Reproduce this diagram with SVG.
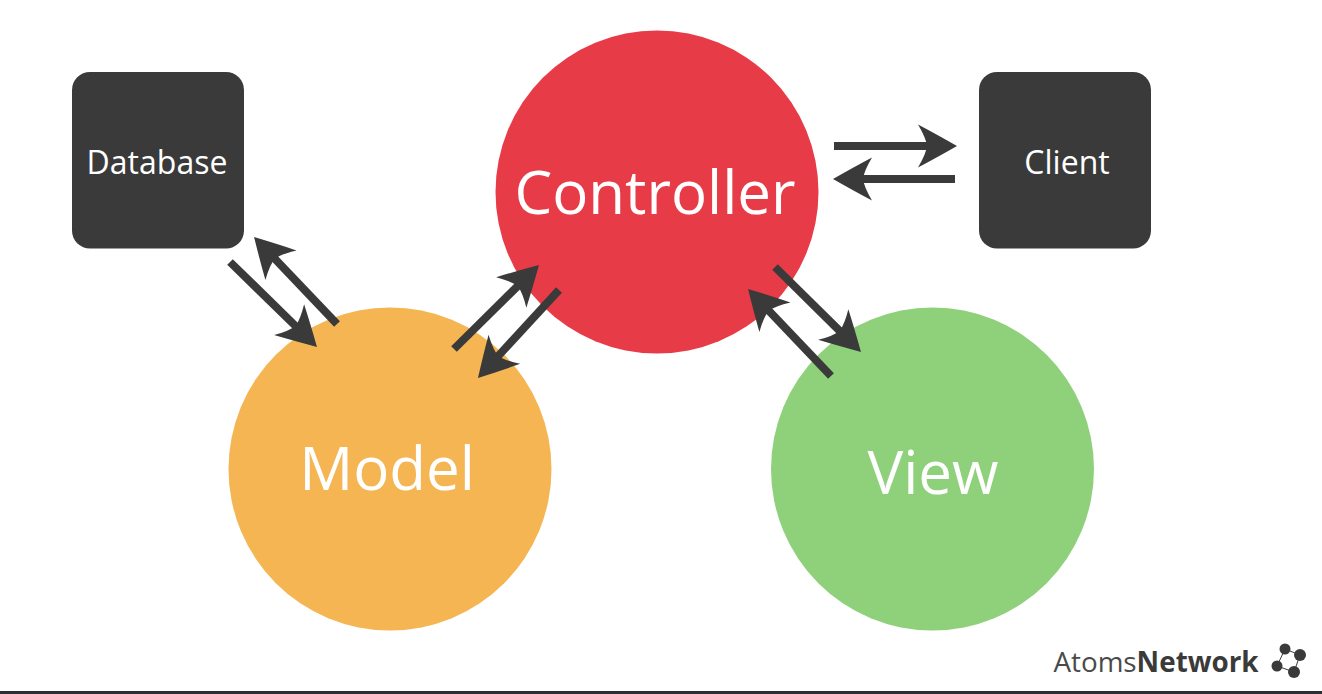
<svg xmlns="http://www.w3.org/2000/svg" width="1322" height="694" viewBox="0 0 1322 694">
<defs>
<style>
text{font-family:"Open Sans","Noto Sans",sans-serif;text-anchor:middle}
.big{font-size:60px;fill:#fff}
.small{font-size:32px;fill:#fff}
.box{fill:#3a3a3a}
.arrow{stroke:#3a3a3a;stroke-width:8;fill:none;marker-end:url(#head)}
.logo{fill:#3a3a3a}
</style>
<marker id="head" markerUnits="userSpaceOnUse" markerWidth="60" markerHeight="60" refX="0" refY="0" orient="auto" viewBox="-20 -30 60 60">
<path d="M25,0 Q4,-12 -14,-21.5 Q-6,-8 -5,0 Q-6,8 -14,21.5 Q4,12 25,0Z" fill="#3a3a3a"/>
</marker>
</defs>
<rect width="1322" height="694" fill="#fff"/>
<g id="node-controller"><circle cx="657" cy="192" r="161.5" fill="#e73c47"/><text class="big" x="655" y="214">Controller</text></g>
<g id="node-model"><circle cx="390" cy="469" r="161.5" fill="#f4b552"/><text class="big" x="387" y="490">Model</text></g>
<g id="node-view"><circle cx="932.5" cy="469" r="161.5" fill="#8fd07b"/><text class="big" x="933" y="494">View</text></g>
<g id="node-database"><rect class="box" x="72" y="72" width="172" height="176.500" rx="18"/><text class="small" x="157" y="174">Database</text></g>
<g id="node-client"><rect class="box" x="979" y="72" width="172" height="176.500" rx="18"/><text class="small" x="1067" y="174">Client</text></g>
<g id="connectors">
<path class="arrow" d="M834,146H932"/>
<path class="arrow" d="M955,179H858"/>
<path class="arrow" d="M230,262L299.100,329.500"/>
<path class="arrow" d="M337,324L271.300,255.100"/>
<path class="arrow" d="M454,349L521.200,282.600"/>
<path class="arrow" d="M559,290L494.900,359.600"/>
<path class="arrow" d="M775,267L843.200,334.400"/>
<path class="arrow" d="M831,376L765.300,307.100"/>
</g>
<g id="brand">
<text x="1156" y="672" font-size="27.800" fill="#4a4a4a">Atoms<tspan font-weight="700" fill="#3a3a3a">Network</tspan></text>
<path d="M1285,649L1300,655L1294,672L1277,666Z" fill="none" stroke="#3a3a3a" stroke-width="1"/>
<circle class="logo" cx="1285" cy="649" r="5.500"/><circle class="logo" cx="1300" cy="655" r="6"/><circle class="logo" cx="1277" cy="666" r="5.500"/><circle class="logo" cx="1294" cy="672" r="6"/>
</g>
<rect x="0" y="691" width="1322" height="3" fill="#2b2f33"/>
</svg>
